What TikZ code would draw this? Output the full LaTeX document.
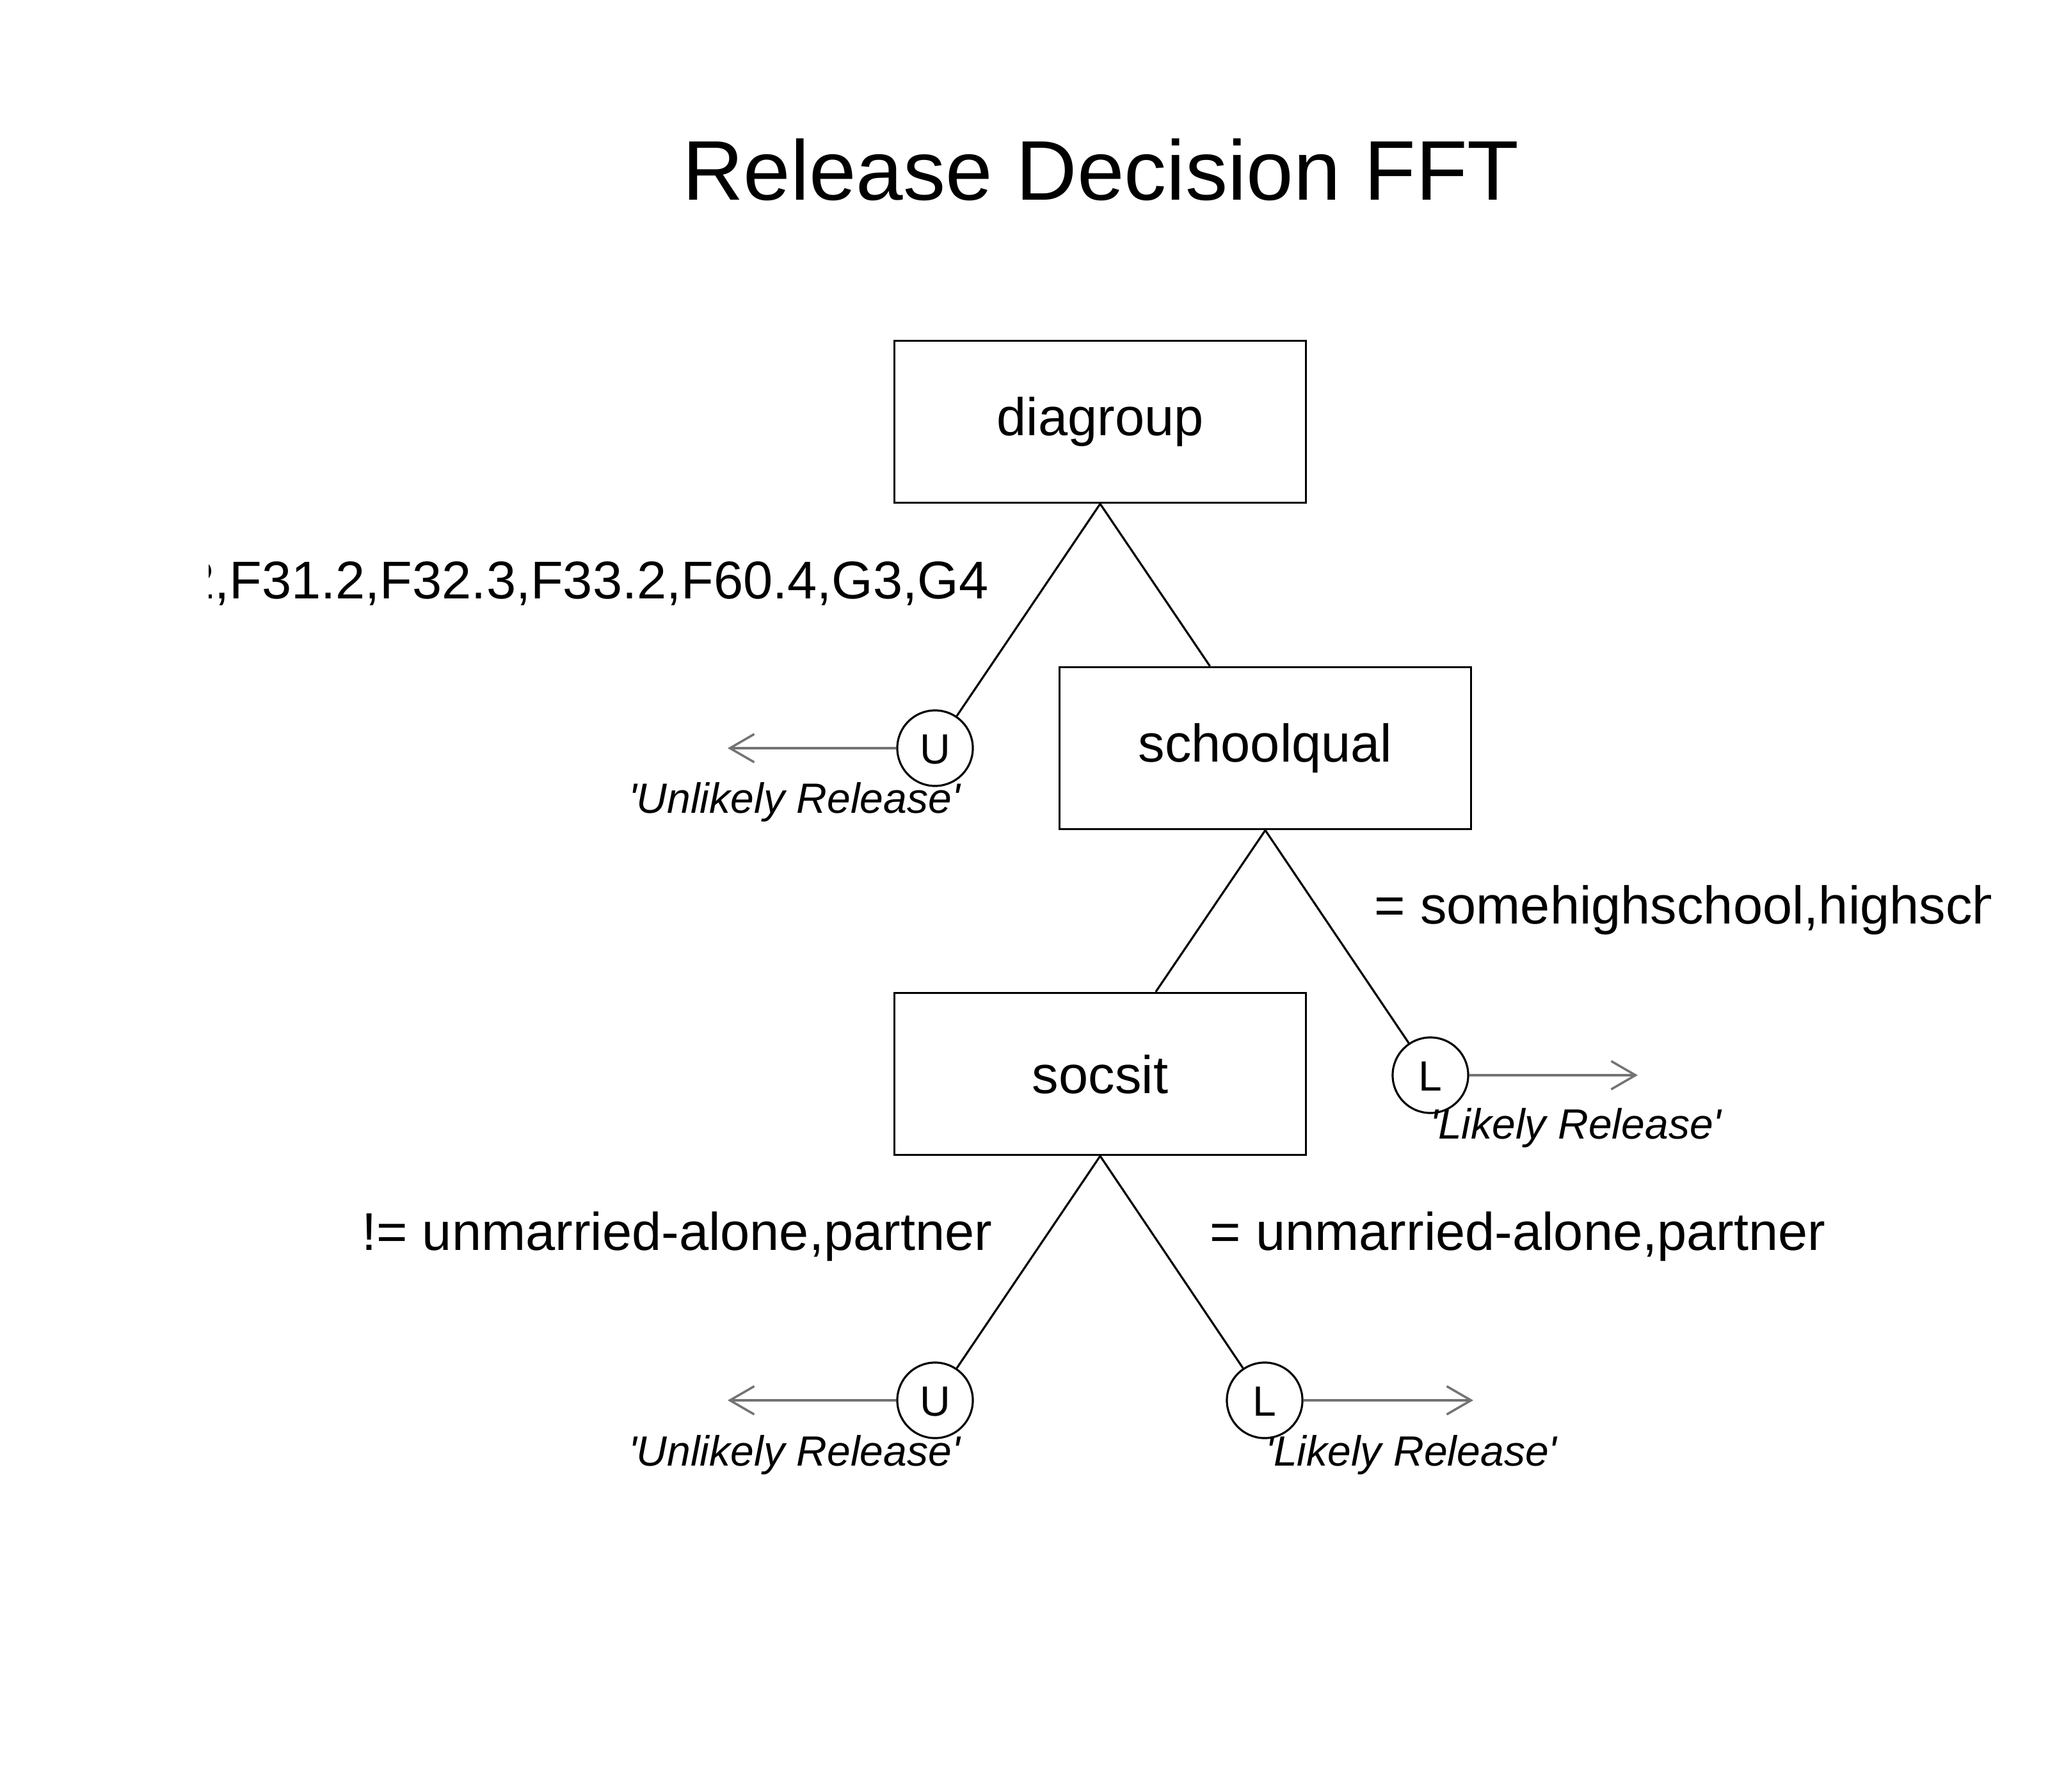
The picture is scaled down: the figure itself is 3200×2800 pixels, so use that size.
\documentclass[tikz,border=0pt]{standalone}
\usepackage{fontspec}
\setmainfont{Liberation Sans}
\newfontfamily\plainsans{Liberation Sans}
\usetikzlibrary{arrows.meta}
\tikzset{
  cue/.style={draw=black, line width=0.95pt, minimum width=6.43cm, minimum height=2.53cm,
    inner sep=0pt, text height=0.55cm, text depth=0.12cm, font=\fontsize{23.6pt}{28pt}\selectfont},
  leaf/.style={draw=black, circle, line width=0.9pt, minimum size=1.18cm, inner sep=0pt,
    text height=0.48cm, text depth=0cm, font=\fontsize{18.8pt}{22pt}\selectfont},
  branch/.style={line width=0.9pt, draw=black},
  leafarrow/.style={line width=1pt, draw=black!55, -{Straight Barb[length=0.38cm,width=0.44cm,line width=1pt]}},
  cuelabel/.style={inner sep=0pt, font=\fontsize{23.6pt}{28pt}\selectfont},
  leaflabel/.style={inner sep=0pt, anchor=base, font=\plainsans\fontsize{18.8pt}{22pt}\itshape\selectfont},
}
\begin{document}
\begin{tikzpicture}[x=0.01cm, y=-0.01cm]
\useasboundingbox (0,0) rectangle (3200,2800);
\fill[white] (0,0) rectangle (3200,2800);

\node[inner sep=0pt, anchor=base, font=\fontsize{37.6pt}{44pt}\selectfont] (title) at (1720,312) {Release Decision FFT};

\node[cue] (diagroup) at (1719,659) {diagroup};
\node[cue] (schoolqual) at (1977,1169) {schoolqual};
\node[cue, text height=0.65cm, text depth=0.05cm] (socsit) at (1719,1678) {socsit};

\node[leaf] (U1) at (1461,1169) {U};
\node[leaf] (L1) at (2235,1680) {L};
\node[leaf] (U2) at (1461,2188) {U};
\node[leaf] (L2) at (1976,2188) {L};

\draw[branch] (diagroup.south) -- (U1);
\draw[branch] (diagroup.south) -- (schoolqual);
\draw[branch] (schoolqual.south) -- (socsit);
\draw[branch] (schoolqual.south) -- (L1);
\draw[branch] (socsit.south) -- (U2);
\draw[branch] (socsit.south) -- (L2);

\coordinate (U1end) at (1137,1169);
\coordinate (L1end) at (2559,1680);
\coordinate (U2end) at (1137,2188);
\coordinate (L2end) at (2302,2188);
\draw[leafarrow] (U1.west) -- (U1end);
\draw[leafarrow] (L1.east) -- (L1end);
\draw[leafarrow] (U2.west) -- (U2end);
\draw[leafarrow] (L2.east) -- (L2end);

\node[leaflabel] (U1lab) at (1241,1270) {'Unlikely Release'};
\node[leaflabel] (L1lab) at (2462,1779) {'Likely Release'};
\node[leaflabel] (U2lab) at (1241,2290) {'Unlikely Release'};
\node[leaflabel] (L2lab) at (2205,2290) {'Likely Release'};

\begin{scope}
\clip (326,0) rectangle (3110,2800);
\node[cuelabel, anchor=base east] (lab1) at (1545,935) {2,F31.2,F32.3,F33.2,F60.4,G3,G4};
\node[cuelabel, anchor=base west] (lab2) at (2147,1443) {= somehighschool,highsch};
\node[cuelabel, anchor=base east] (lab3) at (1551,1953) {!= unmarried-alone,partner};
\node[cuelabel, anchor=base west] (lab4) at (1890,1953) {= unmarried-alone,partner};
\end{scope}
\end{tikzpicture}
\end{document}
